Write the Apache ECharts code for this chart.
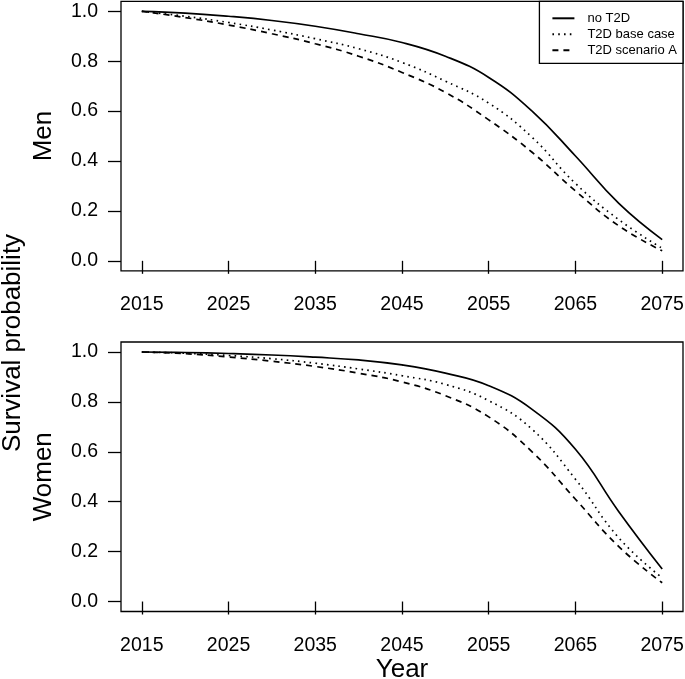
<!DOCTYPE html>
<html>
<head>
<meta charset="utf-8">
<script src="https://cdn.jsdelivr.net/npm/echarts@6/dist/echarts.min.js"></script>
<style>
html,body{margin:0;padding:0;background:#fff;}
#chart{width:685px;height:679px;}
</style>
</head>
<body>
<div id="chart"></div>
<script>
const years = [2015, 2020, 2025, 2030, 2035, 2040, 2045, 2050, 2055, 2060, 2065, 2070, 2075];
const xTicks = [2015, 2025, 2035, 2045, 2055, 2065, 2075];
const yTicks = [0, 0.2, 0.4, 0.6, 0.8, 1.0];
const seriesNames = ['no T2D', 'T2D base case', 'T2D scenario A'];

const menNoT2D  = [1.0, 0.993, 0.98, 0.963, 0.94, 0.91, 0.875, 0.82, 0.735, 0.60, 0.42, 0.23, 0.085];
const menBase   = [1.0, 0.98, 0.955, 0.925, 0.89, 0.85, 0.795, 0.72, 0.632, 0.495, 0.31, 0.165, 0.05];
const menScenA  = [1.0, 0.975, 0.945, 0.91, 0.87, 0.82, 0.755, 0.675, 0.565, 0.435, 0.28, 0.14, 0.04];

const womenNoT2D = [1.0, 0.998, 0.994, 0.988, 0.979, 0.968, 0.948, 0.915, 0.865, 0.77, 0.61, 0.36, 0.13];
const womenBase  = [1.0, 0.995, 0.986, 0.973, 0.955, 0.932, 0.905, 0.87, 0.805, 0.69, 0.49, 0.255, 0.095];
const womenScenA = [1.0, 0.993, 0.98, 0.963, 0.942, 0.915, 0.88, 0.825, 0.74, 0.60, 0.41, 0.22, 0.075];

const FONT = '"Liberation Sans", Arial, sans-serif';
const styles = [
  {type: 'solid', width: 1.7},
  {type: [1.6, 4.2], width: 1.7},
  {type: [6, 5], width: 1.7}
];

function pairs(arr) { return years.map((y, i) => [y, arr[i]]); }

function xAxisCfg(gi, withName) {
  return {
    type: 'value', gridIndex: gi, min: 2012.6, max: 2077.4,
    axisLine: {show: false},
    axisTick: {show: true, length: 13, inside: false, customValues: xTicks, lineStyle: {color: '#000', width: 1.3}},
    axisLabel: {show: true, customValues: xTicks, margin: 24, fontSize: 19.5, color: '#000', fontFamily: FONT,
                formatter: v => String(Math.round(v))},
    splitLine: {show: false},
    name: withName ? 'Year' : '', nameLocation: 'middle', nameGap: 40,
    nameTextStyle: {fontSize: 26, color: '#000', fontFamily: FONT}
  };
}
function yAxisCfg(gi, name) {
  return {
    type: 'value', gridIndex: gi, min: -0.04, max: 1.04,
    axisLine: {show: false},
    axisTick: {show: true, length: 13, inside: false, customValues: yTicks, lineStyle: {color: '#000', width: 1.3}},
    axisLabel: {show: true, customValues: yTicks, margin: 23, fontSize: 19.5, color: '#000', fontFamily: FONT,
                formatter: v => v.toFixed(1)},
    splitLine: {show: false},
    name: name, nameLocation: 'middle', nameGap: 64, nameRotate: 90,
    nameTextStyle: {fontSize: 26, color: '#000', fontFamily: FONT}
  };
}

const data = [[menNoT2D, menBase, menScenA], [womenNoT2D, womenBase, womenScenA]];
const series = [];
data.forEach((grp, gi) => {
  grp.forEach((arr, si) => {
    series.push({
      name: seriesNames[si], type: 'line', xAxisIndex: gi, yAxisIndex: gi,
      data: pairs(arr), showSymbol: false, symbol: 'none', smooth: 0.45,
      lineStyle: {color: '#000', width: styles[si].width, type: styles[si].type, cap: 'butt'},
      itemStyle: {color: '#000'},
      silent: true, animation: false
    });
  });
});

const gridBase = {left: 121, width: 562, height: 269.5, show: true, borderColor: '#000', borderWidth: 1.3,
                  backgroundColor: 'transparent', containLabel: false, outerBoundsMode: 'none'};

const chart = echarts.init(document.getElementById('chart'), null, {renderer: 'canvas'});
chart.setOption({
  backgroundColor: '#fff',
  animation: false,
  grid: [
    Object.assign({}, gridBase, {top: 1.3}),
    Object.assign({}, gridBase, {top: 342})
  ],
  xAxis: [xAxisCfg(0, false), xAxisCfg(1, true)],
  yAxis: [yAxisCfg(0, 'Men'), yAxisCfg(1, 'Women')],
  legend: {
    data: seriesNames,
    orient: 'vertical', right: 2, top: 1.3,
    padding: [10.5, 6, 6.5, 12], itemGap: 3, itemWidth: 22, itemHeight: 14,
    borderColor: '#000', borderWidth: 1.3, backgroundColor: '#fff',
    itemStyle: {opacity: 0},
    textStyle: {fontSize: 13, color: '#000', fontFamily: FONT, padding: [0, 0, 0, 8]},
    selectedMode: false
  },
  graphic: [{
    type: 'text', x: 13, y: 343, rotation: Math.PI / 2,
    style: {text: 'Survival probability', fontSize: 26, fill: '#000', fontFamily: FONT, align: 'center', verticalAlign: 'middle'}
  }],
  series: series
});
</script>
</body>
</html>
